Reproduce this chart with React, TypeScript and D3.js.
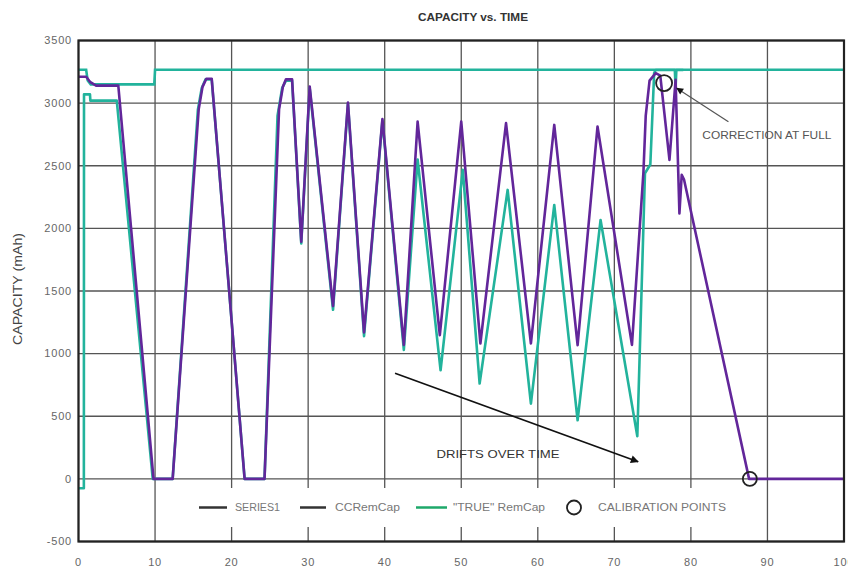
import React from "react";
import * as d3 from "d3";

const chartTitle = "CAPACITY vs. TIME";
const yAxisLabel = "CAPACITY (mAh)";
const xTickValues = [0, 10, 20, 30, 40, 50, 60, 70, 80, 90, 100];
const yTickValues = [-500, 0, 500, 1000, 1500, 2000, 2500, 3000, 3500];

// CCRemCap (purple)
const ccTime = [0, 1.0, 1.5, 2.3, 5.2, 9.8, 12.3, 15.7, 16.2, 16.7, 17.4, 21.7, 24.3, 26.2, 26.7, 27.1, 27.9, 29.1, 30.2, 33.25, 35.2, 37.3, 39.7, 42.5, 44.3, 47.2, 50.0, 52.5, 55.85, 59.1, 62.15, 65.2, 67.8, 72.3, 73.8, 74.1, 74.6, 75.4, 76.0, 77.2, 78.0, 78.5, 78.8, 79.1, 87.6, 100];
const ccCap = [3210, 3210, 3170, 3140, 3140, 0, 0, 2950, 3130, 3195, 3195, 0, 0, 2950, 3130, 3190, 3190, 1893, 3133, 1380, 3005, 1170, 2872, 1070, 2853, 1147, 2853, 1081, 2840, 1081, 2826, 1067, 2813, 1070, 2450, 2900, 3180, 3240, 3220, 2547, 3186, 2120, 2427, 2390, 0, 0];

// "TRUE" RemCap (teal)
const trueTime = [0, 0.7, 0.72, 1.5, 1.55, 5.0, 9.7, 12.3, 15.6, 16.1, 16.6, 17.4, 21.7, 24.3, 26.0, 26.6, 27.1, 27.9, 29.1, 30.2, 33.25, 35.2, 37.3, 39.7, 42.5, 44.3, 47.3, 50.2, 52.4, 56.06, 59.1, 62.15, 65.2, 68.2, 73.0, 74.0, 74.7, 75.2, 75.4, 77.9, 78.0, 78.1, 79.0];
const trueCap = [-75, -75, 3070, 3070, 3020, 3020, 0, 0, 2950, 3120, 3190, 3190, 0, 0, 2900, 3120, 3180, 3180, 1880, 3120, 1350, 2995, 1140, 2860, 1030, 2550, 867, 2467, 761, 2307, 601, 2187, 468, 2067, 340, 2440, 2510, 3240, 3265, 3265, 3120, 3265, 3265];

// full-capacity reference (teal flat line)
const fullTime = [0, 1.0, 1.2, 1.6, 9.9, 10.0, 100];
const fullCap = [3266, 3266, 3180, 3150, 3150, 3266, 3266];

// calibration points
const calTime = [76.5, 87.7];
const calCap = [3160, 0];

const legendLabels = ["SERIES1", "CCRemCap", "\"TRUE\" RemCap", "CALIBRATION POINTS"];
const driftText = "DRIFTS OVER TIME";
const correctionText = "CORRECTION AT FULL";

const PURPLE = "#62269a";
const TEAL = "#22b39c";
const GRID = "#555";
const FONT = "'Liberation Sans', Arial, sans-serif";

export default function App() {
  const x = d3.scaleLinear().domain([0, 100]).range([78.5, 844]);
  const y = d3.scaleLinear().domain([-500, 3500]).range([541.5, 40.5]);
  const line = d3
    .line<[number, number]>()
    .x((d) => x(d[0]))
    .y((d) => y(d[1]));
  const zip = (t: number[], v: number[]) => t.map((tt, i) => [tt, v[i]] as [number, number]);

  const [x0, x1] = x.range();
  const [y0, y1] = y.range();

  const legendY = 507.5;

  return (
    <>
      <style>{`body{margin:0;background:#fff}`}</style>
      <svg width={848} height={573} style={{ display: "block", fontFamily: FONT }}>
        <defs>
          <marker id="ah" viewBox="0 0 10 10" refX="9" refY="5" markerWidth="11" markerHeight="8" markerUnits="userSpaceOnUse" orient="auto">
            <path d="M0,0 L10,5 L0,10 z" fill="#111" />
          </marker>
          <marker id="ah2" viewBox="0 0 10 10" refX="9" refY="5" markerWidth="9" markerHeight="7" markerUnits="userSpaceOnUse" orient="auto">
            <path d="M0,0 L10,5 L0,10 z" fill="#111" />
          </marker>
        </defs>
        <rect x={0} y={0} width={848} height={573} fill="#fff" />
        {/* title */}
        <text x={473} y={21} textAnchor="middle" fontSize={10.5} fontWeight="bold" fill="#333" textLength={110} lengthAdjust="spacingAndGlyphs">
          {chartTitle}
        </text>
        {/* y label */}
        <text transform={`translate(22,289) rotate(-90)`} textAnchor="middle" fontSize={12} fill="#444" textLength={112} lengthAdjust="spacingAndGlyphs">
          {yAxisLabel}
        </text>
        {/* gridlines */}
        {yTickValues.map((v) => (
          <line key={"gy" + v} x1={x0} x2={x1} y1={y(v)} y2={y(v)} stroke={GRID} strokeWidth={1.3} />
        ))}
        {xTickValues.map((v) => (
          <line key={"gx" + v} x1={x(v)} x2={x(v)} y1={y0} y2={y1} stroke={GRID} strokeWidth={1.3} />
        ))}
        {/* tick labels */}
        {yTickValues.map((v) => (
          <text key={"ty" + v} x={72} y={y(v)} dy="0.35em" textAnchor="end" fontSize={11} letterSpacing={0.8} fill="#666">
            {v}
          </text>
        ))}
        {xTickValues.map((v) => (
          <text key={"tx" + v} x={x(v)} y={566} textAnchor="middle" fontSize={11} letterSpacing={0.8} fill="#666">
            {v}
          </text>
        ))}
        {/* legend box */}
        <rect x={178} y={488} width={570} height={39} fill="#fff" />
        {/* series */}
        <path d={line(zip(fullTime, fullCap)) || ""} fill="none" stroke={TEAL} strokeWidth={2.6} />
        <path d={line(zip(trueTime, trueCap)) || ""} fill="none" stroke={TEAL} strokeWidth={2.6} strokeLinejoin="round" />
        <path d={line(zip(ccTime, ccCap)) || ""} fill="none" stroke={PURPLE} strokeWidth={2.6} strokeLinejoin="round" />
        {/* calibration points */}
        {calTime.map((t, i) => (
          <circle key={"cal" + i} cx={x(t)} cy={y(calCap[i])} r={i === 0 ? 8 : 7} fill="none" stroke="#222" strokeWidth={1.8} />
        ))}
        {/* plot border */}
        <rect x={x0} y={y1} width={x1 - x0} height={y0 - y1} fill="none" stroke="#222" strokeWidth={2.2} />
        {/* legend */}
        <g fontSize={10} fill="#777">
          <line x1={199} x2={227} y1={legendY} y2={legendY} stroke="#333" strokeWidth={2.5} />
          <text x={235} y={legendY} dy="0.35em" textLength={45} lengthAdjust="spacingAndGlyphs">{legendLabels[0]}</text>
          <line x1={300} x2={326} y1={legendY} y2={legendY} stroke="#333" strokeWidth={2.5} />
          <text x={335} y={legendY} dy="0.35em" textLength={65} lengthAdjust="spacingAndGlyphs">{legendLabels[1]}</text>
          <line x1={416} x2={447} y1={legendY} y2={legendY} stroke="#1ea86a" strokeWidth={2.5} />
          <text x={453} y={legendY} dy="0.35em" textLength={92} lengthAdjust="spacingAndGlyphs">{legendLabels[2]}</text>
          <circle cx={574} cy={legendY} r={7} fill="none" stroke="#222" strokeWidth={1.8} />
          <text x={598} y={legendY} dy="0.35em" textLength={128} lengthAdjust="spacingAndGlyphs">{legendLabels[3]}</text>
        </g>
        {/* annotations */}
        <line x1={x(41.35)} y1={y(843)} x2={x(73.1)} y2={y(137)} stroke="#111" strokeWidth={1.6} markerEnd="url(#ah)" />
        <text x={x(54.8)} y={y(167)} textAnchor="middle" fontSize={11.5} fill="#333" textLength={123} lengthAdjust="spacingAndGlyphs">
          {driftText}
        </text>
        <line x1={x(84.9)} y1={y(2852)} x2={x(78.15)} y2={y(3119)} stroke="#555" strokeWidth={1.2} markerEnd="url(#ah2)" />
        <text x={x(81.5)} y={y(2714)} fontSize={10.5} fill="#555" textLength={129} lengthAdjust="spacingAndGlyphs">
          {correctionText}
        </text>
      </svg>
    </>
  );
}
